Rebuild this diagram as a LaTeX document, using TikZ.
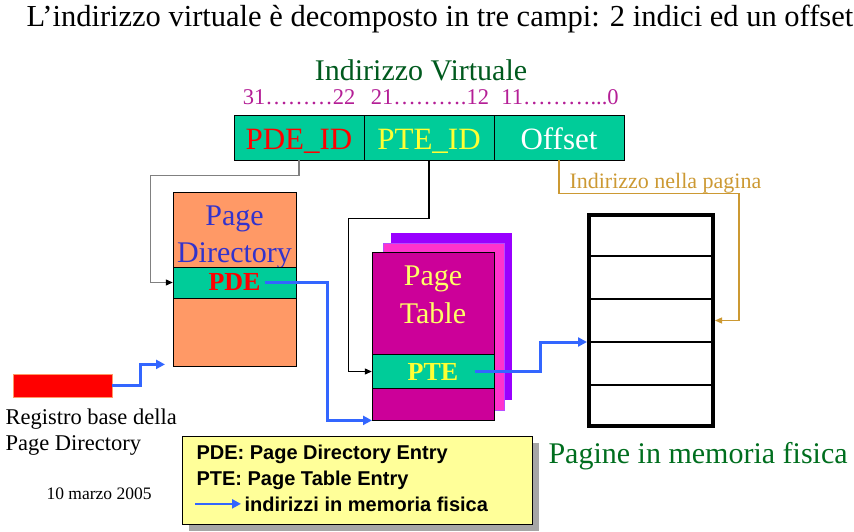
\documentclass[tikz,border=0pt]{standalone}
\usepackage{fontspec}
\setmainfont{Liberation Serif}
\newfontfamily\legendfont{Liberation Sans}
\usetikzlibrary{arrows.meta,calc}
\definecolor{fieldgreen}{RGB}{0,204,153}
\definecolor{dirorange}{RGB}{255,153,102}
\definecolor{tabmagenta}{RGB}{204,0,153}
\definecolor{tabpink}{RGB}{255,51,204}
\definecolor{tabviolet}{RGB}{153,0,255}
\definecolor{linkblue}{RGB}{51,102,255}
\definecolor{offgold}{RGB}{204,153,51}
\definecolor{bitmagenta}{RGB}{180,30,150}
\definecolor{titlegreen}{RGB}{0,90,30}
\definecolor{pagegreen}{RGB}{0,110,30}
\definecolor{dirblue}{RGB}{51,51,204}
\definecolor{tabyellow}{RGB}{255,255,102}
\definecolor{idyellow}{RGB}{255,255,51}
\definecolor{legendyellow}{RGB}{255,255,153}
\def\fs#1{\fontsize{#1}{#1}\selectfont}

\begin{document}
\begin{tikzpicture}[x=1pt,y=-1pt,
  field/.style={draw,fill=fieldgreen,minimum width=130pt,minimum height=45pt,inner sep=0pt,text height=24pt,text depth=0pt,font=\fs{31}},
  band/.style={draw,fill=fieldgreen,minimum width=122pt,minimum height=34pt,inner sep=0pt,font=\bfseries\fs{26}},
  card/.style={draw,inner sep=0pt,anchor=north west},
  link/.style={draw=linkblue,line width=3pt,-{Triangle[length=9pt,width=9pt]}},
  ptr/.style={line width=1.2pt,-{Triangle[length=7pt,width=6pt]}}]
\useasboundingbox (0,0) rectangle (854,532);

\node[anchor=base west,font=\fs{30.5}] (title) at (23,27) {L’indirizzo virtuale è decomposto in tre campi: 2 indici ed un offset};

\node[anchor=base,font=\fs{30},text=titlegreen] (vaddr) at (421,81) {Indirizzo Virtuale};
\node[anchor=base,font=\fs{22.5},text=bitmagenta] (bitsA) at (299,105) {31………22};
\node[anchor=base,font=\fs{22.5},text=bitmagenta] (bitsB) at (430,105) {21……….12};
\node[anchor=base,font=\fs{22.5},text=bitmagenta] (bitsC) at (560,105) {11………...0};
\node[field,text=red] (pdeid) at (299,137.5) {PDE\_ID};
\node[field,text=idyellow] (pteid) at (429,137.5) {PTE\_ID};
\node[field,text=white] (offs) at (559,137.5) {Offset};
\node[anchor=base west,font=\fs{22},text=offgold] (offlabel) at (566,189) {Indirizzo nella pagina};

\node[card,fill=dirorange,minimum width=123pt,minimum height=174pt] (pdir) at (173,192) {};
\node[anchor=base,font=\fs{30},text=dirblue] (pdirA) at (234.5,225) {Page};
\node[anchor=base,font=\fs{30},text=dirblue] (pdirB) at (234.5,262) {Directory};
\node[band,minimum width=123pt,minimum height=31pt,text=red] (pde) at (234.5,282.5) {PDE};

\fill[tabviolet] (391,233) rectangle (512,400);
\draw[fill=tabpink,draw=tabviolet!70] (383,243) rectangle (504,410);
\node[card,fill=tabmagenta,minimum width=122pt,minimum height=168pt] (ptab) at (372,252) {};
\node[anchor=base,font=\fs{30},text=tabyellow] (ptabA) at (433,285) {Page};
\node[anchor=base,font=\fs{30},text=tabyellow] (ptabB) at (433,323) {Table};
\node[band,text=idyellow] (pte) at (433,371.5) {PTE};

\node[draw,line width=4pt,minimum width=124pt,minimum height=211pt,inner sep=0pt] (mem) at (651,320.5) {};
\foreach \f in {0.2,0.4,0.6,0.8}
  \draw[line width=1.2pt] ($(mem.north west)!\f!(mem.south west)$) -- ($(mem.north east)!\f!(mem.south east)$);
\node[anchor=base west,font=\fs{30},text=pagegreen] (memlabel) at (545,463) {Pagine in memoria fisica};

\node[card,draw=dirorange,fill=red,minimum width=99pt,minimum height=23pt] (reg) at (13,374) {};
\node[anchor=base west,font=\fs{22.5}] (regA) at (2,424) {Registro base della};
\node[anchor=base west,font=\fs{22.5}] (regB) at (2,450) {Page Directory};
\node[anchor=base west,font=\fs{17.5}] (date) at (43,499) {10 marzo 2005};

\fill[gray!70] (189,443) rectangle (539,531);
\node[card,fill=legendyellow,minimum width=350pt,minimum height=88pt] (legend) at (182,436) {};
\node[anchor=base west,font=\legendfont\bfseries\fs{20}] (keyA) at (193,459) {PDE: Page Directory Entry};
\node[anchor=base west,font=\legendfont\bfseries\fs{20}] (keyB) at (193,485) {PTE: Page Table Entry};
\node[anchor=base west,font=\legendfont\bfseries\fs{20}] (keyC) at (241,511) {indirizzi in memoria fisica};

\draw[ptr,draw=gray,-{Triangle[length=7pt,width=6pt,black]}] (pdeid.south) -- ++(0,15) -| ([xshift=-22pt]pde.west) -- (pde.west);
\draw[ptr] (pteid.south) -- ++(0,58) -| ([xshift=-23pt]pte.west) -- (pte.west);
\draw[ptr,draw=offgold] (offs.south) -- ++(0,33) -| ([xshift=24pt]mem.east) -- (mem.east);
\draw[link] ([xshift=30pt]pde.center) -| ([xshift=-45pt]ptab.south west) -- (ptab.south west);
\draw[link] ([xshift=42pt]pte.center) -- ++(65,0) |- ($(mem.north west)!0.6!(mem.south west)$);
\draw[link] (reg.east) -- ++(28,0) |- ([shift={(-8pt,2pt)}]pdir.south west);
\draw[link,line width=2.5pt] ([xshift=-46pt]keyC.west) -- (keyC.west);
\end{tikzpicture}
\end{document}
